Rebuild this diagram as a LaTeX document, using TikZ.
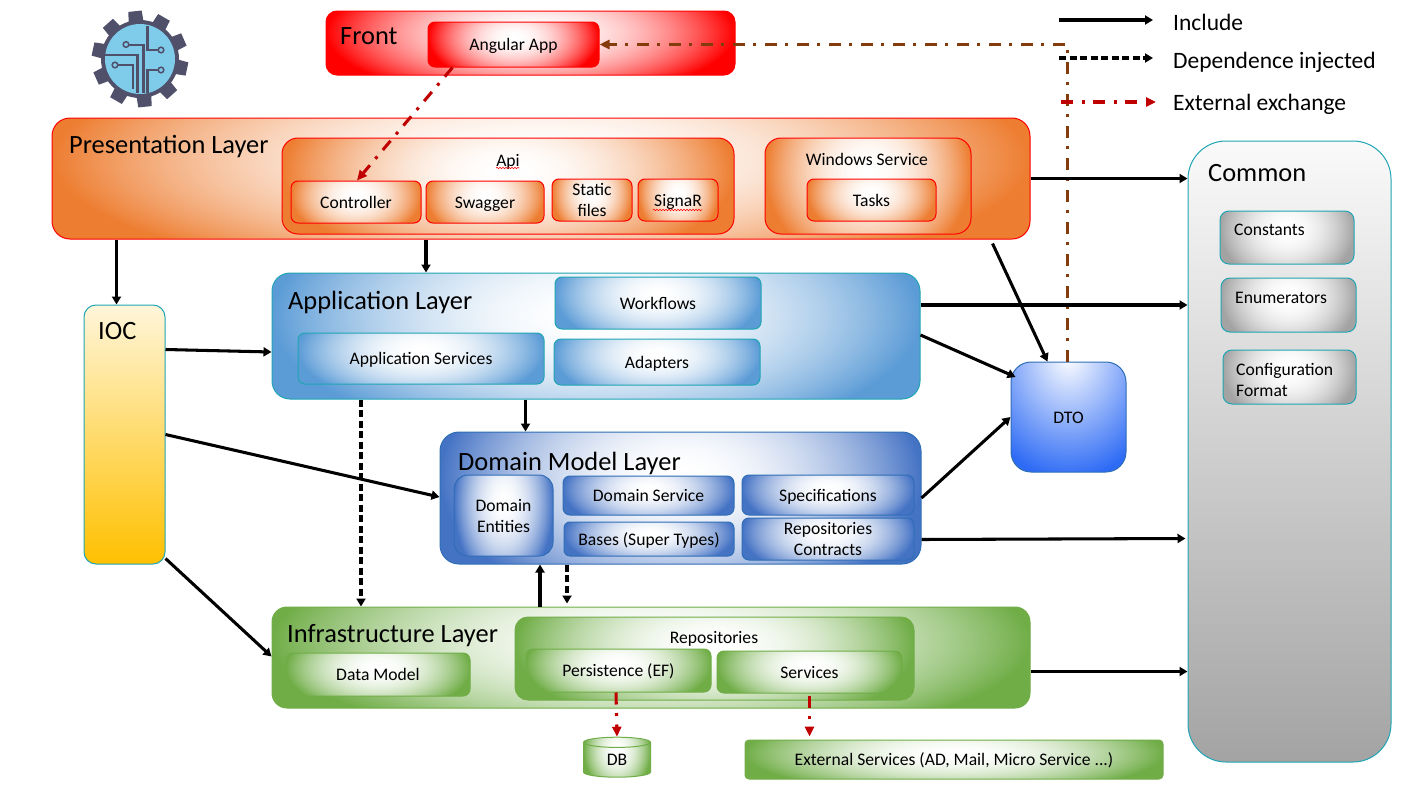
\documentclass[tikz,border=0pt]{standalone}
\usepackage{fontspec}
\setmainfont{Carlito}
\usetikzlibrary{arrows.meta,shapes.geometric,decorations.pathmorphing,calc}
\newcommand\defgrad[4]{\pgfdeclarefunctionalshading{#1}{\pgfpointorigin}{\pgfpoint{100bp}{100bp}}{}{%
 58 sub 52 div dup mul exch 50 sub 25 div dup mul add dup 1 gt {pop 1} if
 dup dup #4 mul 1 exch sub 3 1 roll #3 mul 1 exch sub exch #2 mul 1 exch sub 3 1 roll exch}}
\defgrad{gOrange}{.07}{.51}{.81}
\defgrad{gBlue}{.64}{.39}{.16}
\defgrad{gDark}{.73}{.55}{.23}
\defgrad{gGreen}{.56}{.32}{.72}
\defgrad{gRed}{0}{1}{1}
\defgrad{gGray}{.36}{.36}{.36}
\pgfdeclarefunctionalshading{gDto}{\pgfpointorigin}{\pgfpoint{100bp}{100bp}}{}{%
 78 sub 56 div dup mul exch 50 sub 42 div dup mul add sqrt dup 1 gt {pop 1} if
 dup dup .04 mul 1 exch sub 3 1 roll .58 mul 1 exch sub exch .82 mul 1 exch sub 3 1 roll exch}
\definecolor{cTeal}{HTML}{1FA5B3}
\definecolor{cDarkLine}{HTML}{2F6DB5}
\definecolor{cGreen}{HTML}{70AD47}
\definecolor{cBrown}{HTML}{843C0C}
\definecolor{cExt}{HTML}{C00000}
\definecolor{cGear}{HTML}{50506A}
\definecolor{cSky}{HTML}{7FCBEA}
\definecolor{cIocTop}{HTML}{FFF6DA}
\definecolor{cIocBot}{HTML}{FFC000}
\newcommand\tstr{\rule[-4.3pt]{0pt}{21pt}}
\newcommand\boxn[7]{%
 \pgfmathsetmacro\bcx{(#2+#4)/2}\pgfmathsetmacro\bcy{(#3+#5)/2}%
 \pgfmathsetmacro\bw{#4-#2}\pgfmathsetmacro\bh{#5-#3}%
 \node[#6,minimum width=\bw pt,minimum height=\bh pt,inner sep=0pt,align=center] (#1) at (\bcx,\bcy) {#7};}
\tikzset{
 body/.style={font=\fontsize{17.6}{21}\selectfont,text=black},
 ttl/.style={font=\fontsize{26.4}{30}\selectfont,text=black,anchor=west,inner sep=0pt},
 lbl/.style={font=\fontsize{17.6}{21}\selectfont,text=black,inner sep=0pt},
 legend/.style={font=\fontsize{23.5}{27}\selectfont,text=black,anchor=west,inner sep=0pt},
 rbox/.style={rectangle,rounded corners=#1,body},
 orangebox/.style={rbox=#1,draw=red,line width=1pt,shade,shading=gOrange},
 redbox/.style={rbox=#1,draw=red,line width=1pt,shade,shading=gRed},
 bluebox/.style={rbox=#1,draw=cTeal,line width=1pt,shade,shading=gBlue},
 darkbox/.style={rbox=#1,draw=cDarkLine,line width=1pt,shade,shading=gDark},
 greenbox/.style={rbox=#1,draw=cGreen,line width=1pt,shade,shading=gGreen},
 graybox/.style={rbox=9pt,draw=cTeal,line width=1pt,shade,shading=gGray},
 inc/.style={draw=black,line width=3.05pt,-{Triangle[length=8pt,width=9pt]}},
 dep/.style={inc,dash pattern=on 7pt off 3.5pt},
 ext/.style={draw=cExt,line width=3.05pt,dash pattern=on 12pt off 8.5pt on 3pt off 8.5pt,-{Triangle[length=10pt,width=9pt]}},
 bro/.style={draw=cBrown,line width=2.6pt,dash pattern=on 12pt off 8.5pt on 3pt off 8.5pt,-{Triangle[length=10pt,width=9pt]}},
 squig/.style={draw=red,line width=.6pt,decorate,decoration={snake,amplitude=.7pt,segment length=3pt}},
 gearline/.style={draw=cGear,line width=2.4pt},
 gearpin/.style={draw=cGear,line width=1.5pt,fill=cSky},
}
\begin{document}
\begin{tikzpicture}[x=1pt,y=-1pt]
\useasboundingbox (0,0) rectangle (1401,787);
% gear logo
\fill[cGear] (140,59) circle (39);
\foreach \a in {12,48,...,336}{
 \fill[cGear] ($(140,59)+(\a-12:36)$) -- ($(140,59)+(\a-8:48.5)$) -- ($(140,59)+(\a+8:48.5)$) -- ($(140,59)+(\a+12:36)$) -- cycle;}
\fill[cSky] (140,59) circle (35);
\draw[gearline] (147.3,26) -- (147.3,50) -- (158,50);
\draw[gearline] (129,45) -- (143.3,45) -- (143.3,93);
\draw[gearline] (105,55) -- (137.3,55) -- (137.3,93);
\draw[gearline] (118,65) -- (132.7,65) -- (132.7,89);
\draw[gearline] (158,70) -- (147.3,70) -- (147.3,93);
\draw[gearpin] (161,50) circle (2.8);
\draw[gearpin] (126,44.5) circle (2.8);
\draw[gearpin] (115,65) circle (2.8);
\draw[gearpin] (161,70) circle (2.8);
% front
\boxn{front}{326}{11}{735}{75}{redbox=11pt}{}
\node[ttl] (frontT) at (340,36) {Front};
\boxn{angular}{428}{22}{599}{67}{redbox=7pt}{Angular App\tstr}
% presentation
\boxn{pres}{52}{118}{1030}{239}{orangebox=18pt}{}
\node[ttl] (presT) at (69,146) {Presentation Layer};
\boxn{api}{282}{138}{734}{234}{orangebox=16pt}{}
\node[lbl] (apiT) at (508,160) {Api\tstr};
\boxn{controller}{291}{181}{421}{223}{orangebox=7pt}{Controller\tstr}
\boxn{swagger}{426}{181}{544}{223}{orangebox=7pt}{Swagger\tstr}
\boxn{static}{552}{179}{632}{221}{orangebox=7pt}{Static\tstr\\files\tstr}
\boxn{signar}{638}{179}{718}{221}{orangebox=7pt}{SignaR\tstr}
\boxn{win}{765}{138}{971}{234}{orangebox=16pt}{}
\node[lbl] (winT) at (867,159) {Windows Service\tstr};
\boxn{tasks}{807}{179}{936}{221}{orangebox=7pt}{Tasks\tstr}
\draw[squig] (496,168) -- (519,168);
\draw[squig] (653,210) -- (702,210);
% common
\boxn{common}{1188}{141}{1391}{762}{rbox=38pt,draw=cTeal,line width=1pt,top color=white!96!gray,bottom color=black!36}{}
\node[ttl] (commonT) at (1208,173) {Common};
\boxn{constants}{1220}{211}{1354}{264}{graybox}{}
\node[lbl,anchor=west] (constantsT) at (1234,229) {Constants\tstr};
\boxn{enums}{1221}{278}{1356}{332}{graybox}{}
\node[lbl,anchor=west] (enumsT) at (1235,297) {Enumerators\tstr};
\boxn{config}{1223}{350}{1356}{404}{graybox}{}
\node[lbl,anchor=west,align=left] (configT) at (1236,380) {Configuration\tstr\\Format\tstr};
% application
\boxn{app}{272}{273}{920}{399}{bluebox=18pt}{}
\node[ttl] (appT) at (288,302) {Application Layer};
\boxn{workflows}{555}{277}{761}{329}{bluebox=7pt}{Workflows\tstr}
\boxn{adapters}{554}{339}{760}{385}{bluebox=7pt}{Adapters\tstr}
\boxn{appsvc}{298}{333}{544}{384}{bluebox=7pt}{Application Services\tstr}
% ioc
\boxn{ioc}{84}{305}{165}{564}{rbox=12pt,draw=cTeal,line width=1pt,top color=cIocTop,bottom color=cIocBot}{}
\node[ttl] (iocT) at (98,331) {IOC};
% dto
\boxn{dto}{1011}{362}{1126}{472}{rbox=20pt,draw=cDarkLine,line width=1pt,shade,shading=gDto}{DTO\tstr}
% domain
\boxn{domain}{440}{432}{921}{564}{darkbox=19pt}{}
\node[ttl] (domainT) at (458,463) {Domain Model Layer};
\boxn{entities}{454}{475}{553}{556}{darkbox=14pt}{Domain\tstr\\Entities\tstr}
\boxn{domsvc}{563}{476}{734}{515}{darkbox=7pt}{Domain Service\tstr}
\boxn{specs}{742}{475}{914}{515}{darkbox=7pt}{Specifications\tstr}
\boxn{bases}{564}{522}{734}{556}{darkbox=6pt}{Bases (Super Types)\tstr}
\boxn{repoc}{742}{519}{914}{559}{darkbox=7pt}{Repositories\tstr\\Contracts\tstr}
% infrastructure
\boxn{infra}{272}{607}{1030}{708}{greenbox=15pt}{}
\node[ttl] (infraT) at (287,636) {Infrastructure Layer};
\boxn{datam}{286}{653}{470}{696}{greenbox=7pt}{Data Model\tstr}
\boxn{repos}{515}{617}{914}{700}{greenbox=13pt}{}
\node[lbl] (reposT) at (714,637) {Repositories\tstr};
\boxn{persist}{526}{649}{711}{692}{greenbox=7pt}{Persistence (EF)\tstr}
\boxn{svcs}{717}{651}{902}{693}{greenbox=7pt}{Services\tstr}
% db & external
\node[cylinder,shape border rotate=90,aspect=.5,draw=cGreen,line width=1pt,shade,shading=gGreen,minimum width=67pt,minimum height=40pt,inner sep=0pt,body] (db) at (617,760) {\raisebox{-6pt}{DB}};
\boxn{extsvc}{745}{740}{1163}{779}{rbox=4pt,draw=cGreen,line width=1pt,shade,shading=gGreen}{External Services (AD, Mail, Micro Service ...)\tstr}
% legend
\node[legend] (l1) at (1173,22.5) {Include};
\node[legend] (l2) at (1173,62) {Dependence injected};
\node[legend] (l3) at (1173,104) {External exchange};
\coordinate (l1s) at (1059,20); \coordinate (l2s) at (1059,58); \coordinate (l3s) at (1061,102);
\coordinate (l1e) at (1153,20); \coordinate (l2e) at (1153,58); \coordinate (l3e) at (1156,102);
% helper points on node borders
\coordinate (dtoTop) at ([xshift=-1pt]dto.north);
\coordinate (dtoTL) at ([xshift=-21pt]dto.north);
\coordinate (dtoUL) at ([xshift=5pt,yshift=40pt]dto.west);
\coordinate (presD) at ([xshift=21pt,yshift=-4pt]win.east |- pres.south);
\coordinate (iocN) at ([xshift=-8pt]ioc.north);
\coordinate (appN) at ([xshift=-170pt]app.north);
\coordinate (domN) at ([xshift=-155pt]domain.north);
\coordinate (infraU) at ([xshift=-111pt]infra.north);
\coordinate (appD) at ([xshift=-235pt]app.south);
\coordinate (domD) at ([xshift=-113.5pt]domain.south);
% connectors
\draw[bro] (dtoTop) -- (dtoTop |- angular.east) -- (angular.east);
\draw[inc] (l1s) -- (l1e);
\draw[dep] (l2s) -- (l2e);
\draw[ext] (l3s) -- (l3e);
\draw[ext] ([xshift=-61pt]angular.south) -- ([xshift=1pt]controller.north);
\draw[inc] (iocN |- pres.south) -- (iocN);
\draw[inc] (appN |- pres.south) -- (appN);
\draw[inc] (pres.east) -- (pres.east -| common.west);
\draw[inc] (presD) -- (dtoTL);
\draw[inc] ([yshift=-45pt]ioc.north east) -- ([yshift=-16pt]app.west);
\draw[inc] ([yshift=31pt]app.east) -- ([yshift=31pt]app.east -| common.west);
\draw[inc] ([yshift=1pt]app.east) -- (dtoUL);
\draw[inc] (domN |- app.south) -- (domN);
\draw[inc] (ioc.east) -- ([yshift=1pt]domain.west);
\draw[inc] (domain.east) -- (dto.west);
\draw[inc] ([yshift=25pt]domain.south east) -- ([xshift=-2pt,yshift=26pt]domain.south east -| common.west);
\draw[inc] ([yshift=6pt]ioc.south east) -- ([yshift=1pt]infra.west);
\draw[inc] ([yshift=-14pt]infra.east) -- ([yshift=-14pt]infra.east -| common.west);
\draw[inc] (infraU) -- (infraU |- domain.south);
\draw[dep] (appD) -- (appD |- infra.north);
\draw[dep] (domD) -- ([yshift=3pt]domD |- infra.north);
\draw[ext] ([xshift=-2.5pt]persist.south) -- (db.north);
\draw[ext] ([yshift=-2pt]svcs.south) -- ([yshift=3pt]svcs.south |- extsvc.north);
\end{tikzpicture}
\end{document}
